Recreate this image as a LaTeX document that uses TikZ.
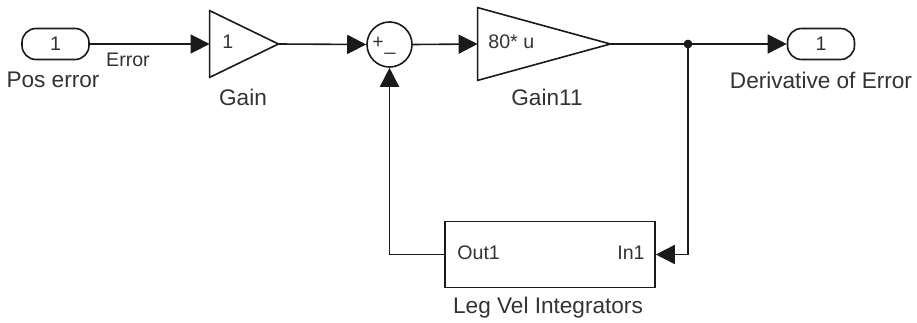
\documentclass[tikz,border=0pt]{standalone}
\usepackage{fontspec}
\setmainfont{Liberation Sans}
\usetikzlibrary{arrows.meta}
\definecolor{ink}{HTML}{1A1A1A}
\definecolor{txt}{HTML}{333333}

\begin{document}
\begin{tikzpicture}[x=.5pt,y=-.5pt,font=\fontsize{11.3}{12}\selectfont,
 port/.style={draw=ink,rounded corners=7pt,minimum width=33.5pt,minimum height=15.5pt,inner sep=0pt,line width=.8pt,text=txt,font=\fontsize{9.8}{11}\selectfont},
 block/.style={draw=ink,minimum width=105pt,minimum height=33pt,inner sep=0pt,line width=.8pt},
 frame/.style={minimum width=#1,inner sep=0pt},
 lbl/.style={text=txt},
 small/.style={text=txt,font=\fontsize{9.8}{11}\selectfont,inner sep=0pt},
 sig/.style={-{Triangle[length=9.5pt,width=9.5pt]},line width=.8pt,draw=ink},
 wire/.style={line width=.8pt,draw=ink}]
\path[use as bounding box,fill=white] (0,0) rectangle (917,322);

\node[port] (pin) at (55.5,44) {1};
\node[lbl] (pinlbl) at (53,80) {Pos error};
\node[small] (errlbl) at (128,60) {Error};

% Gain blocks: invisible frames carry the triangles.
\node[frame=34pt,minimum height=33pt] (gain) at (244,44) {};
\draw[wire] (gain.north west)--(gain.east)--(gain.south west)--cycle;
\node[small,anchor=west] (gainval) at (222,42) {1};
\node[lbl] (gainlbl) at (243,97) {Gain};

\node[draw=ink,circle,minimum size=22.5pt,inner sep=0pt,line width=.8pt] (sum) at (389.5,44.5) {};
\node[small] (plus) at (378,43) {+};
\node[small] (minus) at (390,52) {\_};

\node[frame=66pt,minimum height=36pt] (gaina) at (544,44) {};
\draw[wire] (gaina.north west)--(gaina.east)--(gaina.south west)--cycle;
\node[small,anchor=west] (gainaval) at (488,42) {80* u};
\node[lbl] (gainalbl) at (547,97) {Gain11};

\coordinate (branch) at (688,44);
\fill[ink] (branch) circle (2.2pt);
\node[port] (pout) at (821,44) {1};
\node[lbl] (poutlbl) at (821,80) {Derivative of Error};

\node[block] (integ) at (550,254.5) {};
\node[small,anchor=west] (outa) at (457,253) {Out1};
\node[small,anchor=east] (ina) at (645,253) {In1};
\node[lbl] (integlbl) at (548,308) {Leg Vel Integrators};

\draw[sig] (pin.east)--(gain.west);
\draw[sig] (gain.east)--(sum.west);
\draw[sig] (sum.east)--(gaina.west);
\draw[wire] (gaina.east)--(branch);
\draw[sig] (branch)--(pout.west);
\draw[sig] (branch)|-(integ.east);
\draw[sig] (integ.west)-|(sum.south);
\end{tikzpicture}
\end{document}
